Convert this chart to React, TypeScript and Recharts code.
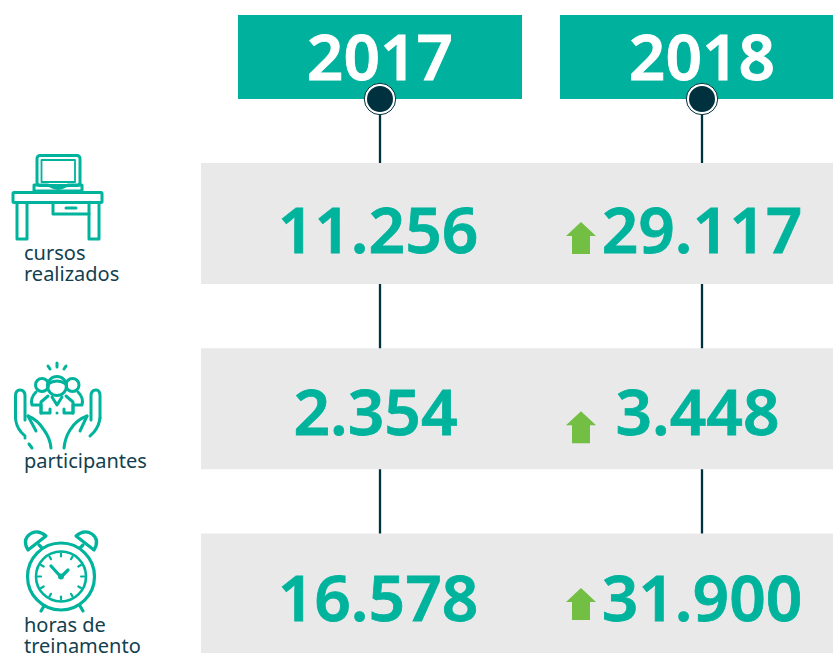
import React from "react";
import { ScatterChart, Scatter, XAxis, YAxis, ReferenceArea, ReferenceLine } from "recharts";

const years = [2017, 2018];
const metrics = [["cursos", "realizados"], ["participantes"], ["horas de", "treinamento"]];
const values2017 = ["11.256", "2.354", "16.578"];
const values2018 = ["29.117", "3.448", "31.900"];

const TEAL = "#00b39c";
const DARK = "#00313f";
const TEXT = "#12404f";
const GREEN = "#72bf44";
const NUM_FONT = "'Noto Sans', sans-serif";

// x axis is in years, y axis is in rows (0, 1, 2), header sits above row 0
const PX_YEAR = 322;
const PX_ROW = 185.25;
const xDomain = [2017 - 380 / PX_YEAR, 2017 + (833 - 380) / PX_YEAR];
const yDomain = [-223.5 / PX_ROW, (653 - 223.5) / PX_ROW];
const HEADER_ROW = (57 - 223.5) / PX_ROW;
const BAND = 60.5 / PX_ROW;
const LABEL_YEAR = 2016;

const headerData = years.map((y) => ({ x: y, y: HEADER_ROW, label: String(y) }));
const valueData = [
  ...values2017.map((v, i) => ({ x: 2017, y: i, label: v, up: false, row: i })),
  ...values2018.map((v, i) => ({ x: 2018, y: i, label: v, up: true, row: i })),
];
const labelData = metrics.map((m, i) => ({ x: LABEL_YEAR, y: i, lines: m, row: i }));

const gaps = [
  [HEADER_ROW + 42 / PX_ROW, -BAND],
  [BAND, 1 - BAND],
  [1 + BAND, 2 - BAND],
];

const HeaderShape = (p: any) => (
  <g>
    <rect x={p.cx - 142} y={p.cy - 42} width={284} height={84} fill="#00b19d" />
    <text x={p.cx} y={p.cy + 22.5} textAnchor="middle" fontFamily={NUM_FONT} fontWeight={600} fontSize={64} fill="#fff" stroke="#fff" strokeWidth={0.8}>
      {p.payload.label}
    </text>
    <circle cx={p.cx} cy={p.cy + 42} r={15.7} fill="#fff" stroke={DARK} strokeWidth={1} />
    <circle cx={p.cx} cy={p.cy + 42} r={13} fill={DARK} />
  </g>
);

const baselineNudge = [29.5, 26.5, 27];
const arrowNudge = [30.5, 34.5, 26];
const shift2017 = [-2, -4.5, -2];
const shift2018 = [0, -4.5, 0];

const ValueShape = (p: any) => {
  const { label, up, row } = p.payload;
  const shift = up ? shift2018[row] : shift2017[row];
  const ax = p.cx - 121;
  const ay = p.cy + arrowNudge[row];
  return (
    <g>
      <text x={p.cx + shift} y={p.cy + baselineNudge[row]} textAnchor="middle" fontFamily={NUM_FONT} fontWeight={600} fontSize={64} fill={TEAL} stroke={TEAL} strokeWidth={0.8}>
        {label}
      </text>
      {up && <path d={`M${ax - 9} ${ay}V${ay - 18}H${ax - 15}L${ax} ${ay - 32}L${ax + 15} ${ay - 18}H${ax + 9}V${ay}Z`} fill={GREEN} />}
    </g>
  );
};

const labelBaselines = [36.5, 59.5, 38];

const DeskIcon = () => (
  <g fill="none" stroke={TEAL} strokeWidth={3} strokeLinejoin="round" strokeLinecap="round">
    <rect x={37} y={155.5} width={43} height={30} rx={3} />
    <rect x={41.5} y={160} width={33.5} height={22} strokeWidth={1.8} />
    <path d="M34 185H48Q58 191 68 185H82V191H34Z" />
    <rect x={13} y={192.5} width={89} height={10} rx={1} />
    <path d="M17 203V239H27V203M89 203V239H99V203" />
    <path d="M53 203V214H89M66 208H76" />
  </g>
);

const HandsIcon = () => (
  <g fill="none" stroke={TEAL} strokeWidth={3} strokeLinejoin="round" strokeLinecap="round">
    <path d="M15.5 418V396Q15.5 390 20 390Q25 390 25 396V420" />
    <path d="M15.5 418Q16 426 21 432L25 436" />
    <path d="M28 416L36 431" />
    <path d="M28 416Q38 420 44 430Q50 438 51 448" />
    <path d="M25 438L25 438M29 444L32 448" />
    <path d="M100 418V396Q100 390 96 390Q91 390 91 396V420" />
    <path d="M100 418Q99 426 94 432L90 436" />
    <path d="M87 416L80 431" />
    <path d="M87 416Q76 420 70 430Q65 438 64 448" />
    <circle cx={57} cy={386} r={9.5} />
    <circle cx={42} cy={385} r={6.5} />
    <circle cx={72.5} cy={385} r={6.5} />
    <path d="M48 384Q57 378 66 384" />
    <path d="M36 392Q30 398 32 405H41V413M78 392Q84 398 82 405H73V413" />
    <path d="M48 396L41 402V413H50V409M66 396L73 402V413H64V409" />
    <path d="M52 397L57 405L62 397" />
    <path d="M57 363V367M48 366L50 369M66 366L64 369M57 413V413" />
  </g>
);

const ClockIcon = () => {
  const c = [61, 576.5];
  const ticks = Array.from({ length: 12 }, (_, i) => i * 30);
  return (
    <g fill="none" stroke={TEAL} strokeWidth={3.2} strokeLinecap="round" strokeLinejoin="round">
      <circle cx={c[0]} cy={c[1]} r={33.5} />
      <circle cx={c[0]} cy={c[1]} r={25} strokeWidth={2.6} />
      <path d="M28 550Q22 540 30 534Q38 529 46 536Z" />
      <path d="M94 550Q100 540 92 534Q84 529 76 536Z" />
      <path d="M41 611L44 606M83 611L80 606M39 545L42 548M83 545L80 548" />
      <path d="M51 566L61 577L68 570" />
      <circle cx={c[0]} cy={c[1]} r={2} strokeWidth={2} />
      {ticks.map((t) => (
        <line
          key={t}
          x1={c[0] + 20 * Math.cos((t * Math.PI) / 180)}
          y1={c[1] + 20 * Math.sin((t * Math.PI) / 180)}
          x2={c[0] + 23 * Math.cos((t * Math.PI) / 180)}
          y2={c[1] + 23 * Math.sin((t * Math.PI) / 180)}
          strokeWidth={2.2}
        />
      ))}
    </g>
  );
};

const icons = [DeskIcon, HandsIcon, ClockIcon];

const LabelShape = (p: any) => {
  const { lines, row } = p.payload;
  const Icon = icons[row];
  return (
    <g>
      <g transform={`translate(${p.cx - 58},${p.cy - (223.5 + row * PX_ROW)})`}>
        <Icon />
      </g>
      {lines.map((line: string, i: number) => (
        <text key={line} x={p.cx - 34} y={p.cy + labelBaselines[row] + i * 21} fontFamily="'Noto Sans', sans-serif" fontSize={20} fill={TEXT}>
          {line}
        </text>
      ))}
    </g>
  );
};

export default function App() {
  return (
    <div style={{ position: "absolute", left: 0, top: 0, width: 833, height: 653 }}>
      <ScatterChart width={833} height={653} margin={{ top: 0, right: 0, bottom: 0, left: 0 }}>
        <XAxis type="number" dataKey="x" domain={xDomain} hide allowDataOverflow />
        <YAxis type="number" dataKey="y" domain={yDomain} reversed hide allowDataOverflow />
        {metrics.map((m, i) => (
          <ReferenceArea
            key={m[0]}
            x1={2017 - 179 / PX_YEAR}
            x2={xDomain[1]}
            y1={i - BAND}
            y2={Math.min(i + BAND, yDomain[1])}
            fill="#e9e9e9"
            fillOpacity={1}
            stroke="none"
          />
        ))}
        {years.flatMap((yr) =>
          gaps.map((g) => (
            <ReferenceLine
              key={`${yr}-${g[0]}`}
              segment={[{ x: yr, y: g[0] }, { x: yr, y: g[1] }]}
              stroke={DARK}
              strokeWidth={2.3}
            />
          ))
        )}
        <Scatter data={headerData} shape={HeaderShape} isAnimationActive={false} />
        <Scatter data={valueData} shape={ValueShape} isAnimationActive={false} />
        <Scatter data={labelData} shape={LabelShape} isAnimationActive={false} />
      </ScatterChart>
    </div>
  );
}
